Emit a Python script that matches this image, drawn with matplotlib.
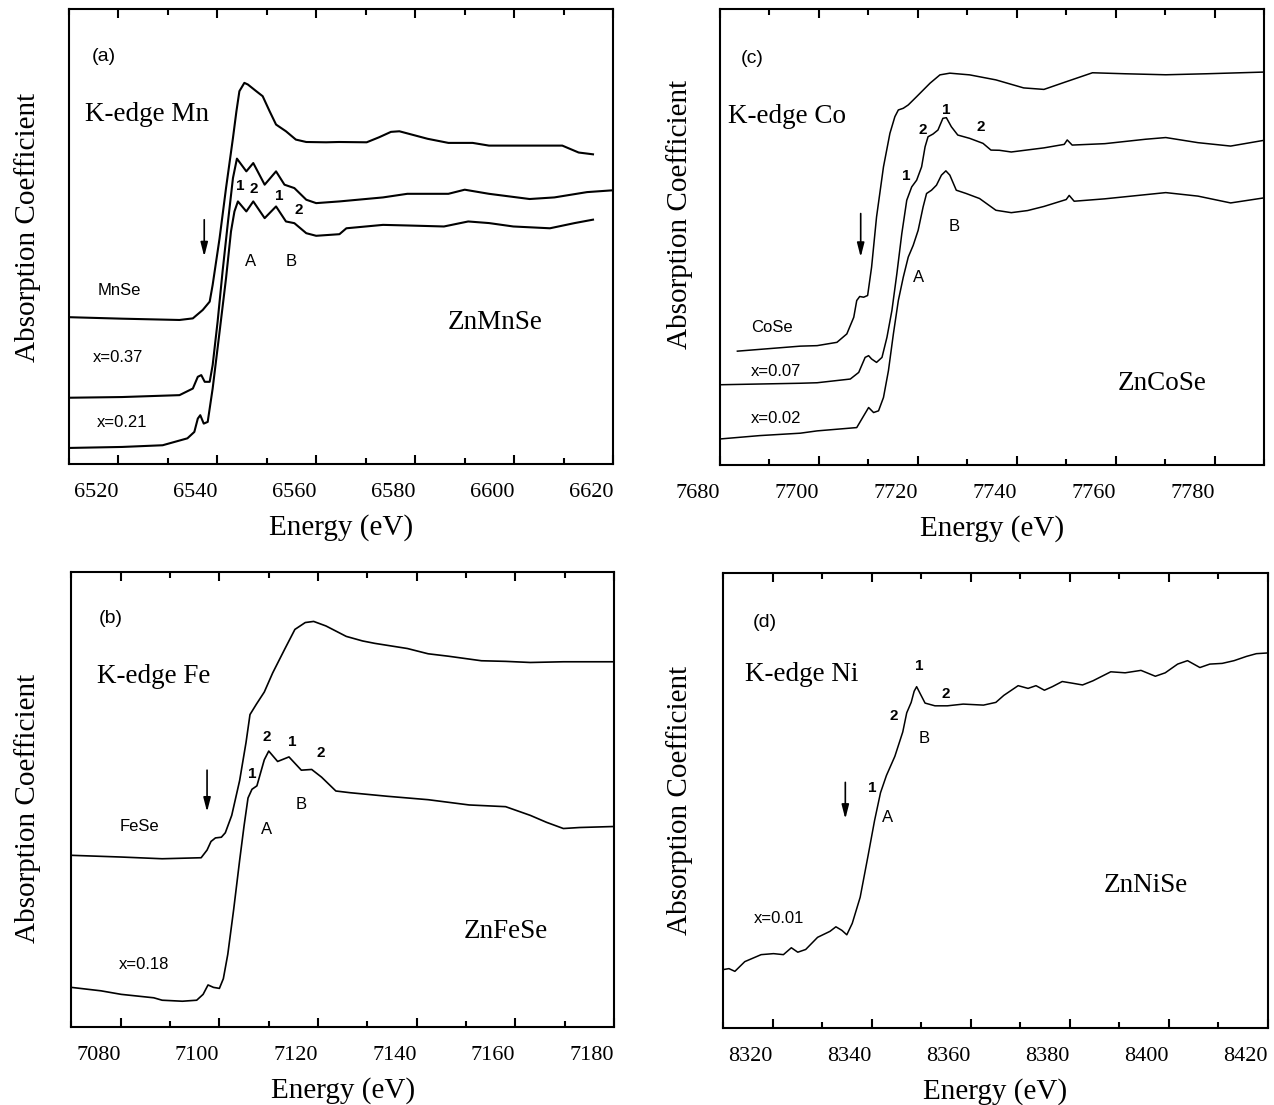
import matplotlib
matplotlib.use('Agg')
import matplotlib.pyplot as plt

# XANES K-edge spectra of Zn(1-x)TM(x)Se
# energies in eV, absorption in arbitrary units (curves are offset vertically)

# (a) Mn K-edge
mn_mnse_e = [6510, 6520.8, 6532.4, 6535.1, 6537.1, 6538.5, 6539.1, 6540.5, 6541.8, 6543.2,
             6543.9, 6544.5, 6545.5, 6546.2, 6547.9, 6549.2, 6550.6, 6551.9, 6553.9, 6555.9,
             6558.0, 6562.0, 6564.6, 6570.2, 6572.7, 6575.1, 6576.8, 6582.5, 6586.7, 6591.6,
             6594.9, 6601.5, 6609.7, 6613.0, 6615.9]
mn_mnse_mu = [146.5, 145.0, 143.7, 145.3, 153.7, 162.0, 178.7, 225.3, 275.3, 325.3,
              352.0, 372.0, 380.3, 378.7, 372.0, 367.0, 352.0, 338.7, 332.0, 323.7,
              321.3, 321.0, 321.3, 321.0, 326.0, 331.4, 332.0, 324.5, 320.4, 320.4,
              317.7, 317.7, 317.7, 310.8, 309.0]
mn_x37_e = [6510, 6520.8, 6532.4, 6535.1, 6536.1, 6536.8, 6537.5, 6538.5, 6539.1, 6540.1,
            6541.1, 6542.2, 6543.2, 6544.0, 6545.9, 6547.3, 6549.6, 6551.9, 6553.6, 6555.6,
            6558.0, 6560.0, 6564.7, 6573.5, 6578.4, 6586.7, 6590.0, 6594.9, 6603.1, 6608.1,
            6614.7, 6619.6]
mn_x37_mu = [66.1, 66.8, 68.7, 75.3, 87.0, 88.7, 82.0, 82.0, 98.7, 142.0,
             192.0, 242.0, 285.3, 304.7, 292.0, 300.3, 278.7, 292.0, 278.7, 275.3,
             263.7, 260.3, 262.0, 266.0, 269.6, 269.6, 273.7, 269.6, 264.4, 266.0,
             271.3, 273.0]
mn_x21_e = [6510, 6520.8, 6529.0, 6534.0, 6535.4, 6536.1, 6536.6, 6537.3, 6538.1, 6539.1,
            6540.5, 6541.8, 6542.8, 6543.5, 6544.2, 6545.9, 6547.3, 6549.6, 6551.9, 6553.9,
            6555.6, 6558.0, 6560.0, 6564.7, 6566.1, 6573.5, 6578.4, 6585.8, 6590.7, 6594.9,
            6599.8, 6607.2, 6612.2, 6615.9]
mn_x21_mu = [16.0, 17.0, 18.7, 25.6, 32.0, 45.3, 48.7, 40.3, 42.0, 75.3,
             132.0, 185.3, 232.0, 252.0, 262.0, 252.0, 262.0, 245.3, 257.0, 242.0,
             240.3, 230.3, 227.7, 229.3, 235.2, 238.6, 238.0, 237.0, 242.0, 240.4,
             237.0, 235.2, 240.4, 243.8]

# (b) Fe K-edge
fe_fese_e = [7070, 7080.1, 7088.4, 7096.3, 7097.5, 7098.3, 7099.2, 7100.4, 7101.2, 7102.5,
             7104.1, 7105.4, 7106.2, 7107.5, 7109.1, 7110.8, 7113.3, 7115.3, 7117.4, 7119.1,
             7121.6, 7125.7, 7129.0, 7131.5, 7138.1, 7142.3, 7146.4, 7153.1, 7158.0, 7163.0,
             7169.7, 7180.0]
fe_fese_mu = [170.1, 168.4, 166.7, 167.7, 175.3, 183.8, 187.3, 188.0, 192.4, 209.6,
              244.0, 281.8, 309.3, 319.6, 331.6, 350.5, 374.6, 393.5, 400.3, 401.4,
              396.9, 386.6, 382.1, 379.7, 374.6, 369.4, 367.0, 362.5, 361.9, 360.8,
              361.5, 361.5]
fe_x18_e = [7070, 7076.0, 7080.1, 7086.7, 7088.4, 7092.5, 7095.4, 7096.7, 7097.7, 7098.8,
            7100.0, 7100.8, 7101.7, 7102.9, 7104.1, 7105.0, 7105.8, 7106.6, 7107.6, 7108.3,
            7109.1, 7110.0, 7111.8, 7114.1, 7116.6, 7118.7, 7120.7, 7123.6, 7126.5, 7134.0,
            7142.3, 7150.6, 7158.0, 7163.0, 7166.3, 7169.7, 7173.0, 7180.0]
fe_x18_mu = [39.5, 36.1, 32.6, 29.2, 26.8, 25.8, 26.8, 32.6, 41.9, 39.5,
             38.5, 48.1, 72.2, 116.8, 165.0, 199.3, 226.8, 235.4, 238.8, 250.9,
             264.6, 273.2, 262.9, 267.4, 254.3, 255.0, 247.4, 233.7, 232.0, 228.5,
             225.1, 219.9, 218.2, 209.6, 202.7, 196.6, 197.6, 198.6]

# (c) Co K-edge
co_cose_e = [7683.6, 7696.3, 7699.7, 7703.7, 7705.7, 7707.1, 7707.7, 7708.3, 7709.1, 7709.9,
             7710.7, 7711.7, 7713.1, 7714.4, 7715.4, 7716.1, 7717.1, 7718.1, 7719.8, 7722.5,
             7724.5, 7726.5, 7730.5, 7735.8, 7741.4, 7745.5, 7749.6, 7755.3, 7761.9, 7770.1,
             7778.3, 7790.0]
co_cose_mu = [113.5, 118.5, 119.0, 122.3, 130.7, 147.3, 164.0, 168.0, 167.3, 169.0,
              197.3, 247.3, 297.3, 330.7, 347.3, 354.0, 355.7, 359.0, 367.3, 380.7,
              389.0, 390.7, 389.0, 384.0, 376.0, 374.5, 381.5, 391.1, 390.1, 389.1,
              390.1, 391.8]
co_x07_e = [7680, 7696.3, 7699.7, 7706.4, 7708.1, 7709.4, 7710.1, 7710.7, 7711.7, 7712.8,
            7713.8, 7714.8, 7715.8, 7716.8, 7717.8, 7718.8, 7719.8, 7720.8, 7721.5, 7722.1,
            7723.1, 7724.1, 7725.1, 7725.8, 7726.8, 7728.1, 7730.5, 7733.2, 7734.8, 7736.5,
            7738.9, 7745.5, 7749.6, 7750.2, 7751.2, 7757.8, 7766.0, 7770.1, 7776.6, 7783.2,
            7790.0]
co_x07_mu = [80.0, 81.5, 82.0, 85.7, 92.3, 107.3, 109.0, 105.7, 102.3, 107.3,
             127.3, 154.0, 190.7, 230.7, 264.0, 277.3, 284.0, 297.3, 317.3, 327.3,
             330.0, 334.0, 345.7, 346.3, 337.3, 329.0, 325.7, 320.7, 314.0, 313.8,
             312.1, 316.2, 319.7, 324.1, 319.0, 320.4, 324.8, 326.5, 321.4, 318.0,
             323.8]
co_x02_e = [7680, 7688.1, 7696.3, 7699.7, 7707.7, 7709.1, 7710.1, 7711.1, 7712.1, 7713.1,
            7714.1, 7715.1, 7716.1, 7717.1, 7718.1, 7719.1, 7720.1, 7721.1, 7721.8, 7722.8,
            7723.8, 7724.8, 7725.7, 7726.5, 7727.8, 7729.8, 7732.5, 7735.8, 7738.9, 7742.2,
            7745.5, 7750.0, 7750.6, 7751.6, 7757.8, 7770.1, 7776.6, 7783.2, 7790.0]
co_x02_mu = [25.9, 29.3, 31.7, 34.0, 37.3, 49.0, 57.3, 52.3, 54.0, 67.3,
             94.0, 130.7, 164.0, 187.3, 207.3, 219.0, 234.0, 257.3, 270.7, 274.0,
             279.0, 289.0, 293.3, 289.0, 274.0, 270.7, 265.7, 254.0, 251.6, 253.7,
             257.8, 264.7, 268.8, 263.0, 265.4, 271.6, 268.1, 261.3, 266.4]

# (d) Ni K-edge
ni_x01_e = [8310, 8311.2, 8312.4, 8314.4, 8317.7, 8320.2, 8322.2, 8323.8, 8325.1, 8326.7,
            8329.1, 8331.6, 8332.8, 8334.0, 8335.0, 8336.1, 8337.7, 8339.3, 8340.6, 8341.8,
            8343.0, 8344.7, 8346.3, 8347.1, 8348.0, 8348.6, 8349.1, 8350.0, 8350.8, 8352.8,
            8355.3, 8358.5, 8362.6, 8365.1, 8366.7, 8369.6, 8371.6, 8373.2, 8374.9, 8376.5,
            8378.5, 8380.6, 8382.6, 8384.7, 8388.3, 8391.2, 8394.4, 8397.3, 8399.3, 8401.8,
            8403.8, 8406.3, 8408.3, 8410.8, 8413.2, 8415.7, 8417.7, 8420.0]
ni_x01_mu = [57.4, 58.4, 55.7, 65.3, 72.2, 73.2, 72.2, 79.0, 74.6, 77.3,
             89.3, 95.2, 99.7, 96.2, 91.8, 103.1, 128.9, 170.1, 204.5, 232.0,
             249.1, 268.0, 292.1, 311.0, 321.3, 332.3, 336.8, 328.2, 320.6, 317.9,
             317.9, 319.6, 318.6, 321.3, 328.2, 337.8, 335.1, 337.8, 333.3, 336.8,
             341.9, 340.2, 338.5, 342.6, 351.5, 350.5, 352.9, 347.1, 350.5, 359.1,
             362.5, 355.7, 359.1, 359.8, 362.5, 366.7, 369.4, 370.1]

SERIF = 'Liberation Serif'
SANS = 'Liberation Sans'

plt.rcParams['font.family'] = [SERIF, 'DejaVu Serif']
plt.rcParams['axes.linewidth'] = 1.5

fig = plt.figure(figsize=(12.74, 11.05), dpi=100)

ax_a = fig.add_axes([0.0538, 0.5801, 0.4276, 0.4122])
ax_c = fig.add_axes([0.5648, 0.5792, 0.4276, 0.4124])
ax_b = fig.add_axes([0.0560, 0.0703, 0.4261, 0.4118])
ax_d = fig.add_axes([0.5675, 0.0699, 0.4276, 0.4115])


def setup(ax, x0, x1, ytop, ylab_xy):
    ax.set_xlim(x0, x1)
    ax.set_ylim(0, ytop)
    minor = list(range(x0, x1 + 1, 10))
    major = [t for t in minor if t % 20 == 0]
    ax.set_xticks(minor, minor=True)
    # labels in the original sit just left of their tick marks
    ax.set_xticks(major, labels=[str(t) for t in major], ha='right',
                  fontsize=16, fontfamily=SERIF)
    ax.set_yticks([])
    ax.tick_params(axis='x', which='both', direction='in', top=True, bottom=True,
                   width=1.5, pad=13.5)
    ax.tick_params(axis='x', which='major', length=6.5)
    ax.tick_params(axis='x', which='minor', length=4)
    ax.set_xlabel('Energy (eV)', fontsize=21, fontfamily=SERIF)
    ax.xaxis.set_label_coords(0.5, -0.11)
    ax.set_ylabel('Absorption Coefficient', fontsize=21, fontfamily=SERIF)
    ax.yaxis.set_label_coords(*ylab_xy)


def tag(ax, x, y, s, size=12, bold=False):
    ax.text(x, y, s, fontsize=size, fontfamily=SANS, ha='center', va='center',
            fontweight='bold' if bold else 'normal')


def arrow(ax, x, ytop, ybot):
    ax.annotate('', xy=(x, ybot), xytext=(x, ytop),
                arrowprops=dict(arrowstyle='-|>,head_length=0.7,head_width=0.18',
                                color='k', lw=1.2, mutation_scale=12,
                                shrinkA=0, shrinkB=0))


# ---- (a) ZnMnSe ----
setup(ax_a, 6510, 6620, 454.5, (-0.051, 0.52))
ax_a.plot(mn_mnse_e, mn_mnse_mu, color='k', lw=1.5)
ax_a.plot(mn_x37_e, mn_x37_mu, color='k', lw=1.5)
ax_a.plot(mn_x21_e, mn_x21_mu, color='k', lw=1.5)
tag(ax_a, 6517.1, 407, '(a)', size=14)
ax_a.text(6513.4, 348.6, 'K-edge Mn', fontsize=19.5, fontfamily=SERIF, va='center')
ax_a.text(6596.1, 140.7, 'ZnMnSe', fontsize=19.5, fontfamily=SERIF, ha='center', va='center')
tag(ax_a, 6520.2, 173, 'MnSe')
tag(ax_a, 6520.0, 106.3, 'x=0.37')
tag(ax_a, 6520.8, 41, 'x=0.21')
arrow(ax_a, 6537.4, 243.7, 207)
tag(ax_a, 6544.7, 277, '1', size=11, bold=True)
tag(ax_a, 6547.3, 274.7, '2', size=11, bold=True)
tag(ax_a, 6552.6, 267, '1', size=11, bold=True)
tag(ax_a, 6556.5, 253.7, '2', size=11, bold=True)
tag(ax_a, 6546.7, 202, 'A')
tag(ax_a, 6554.9, 202, 'B')

# ---- (c) ZnCoSe ----
setup(ax_c, 7680, 7790, 454.4, (-0.049, 0.55))
ax_c.plot(co_cose_e, co_cose_mu, color='k', lw=1.1)
ax_c.plot(co_x07_e, co_x07_mu, color='k', lw=1.1)
ax_c.plot(co_x02_e, co_x02_mu, color='k', lw=1.1)
tag(ax_c, 7686.5, 405.6, '(c)', size=14)
ax_c.text(7681.7, 347.2, 'K-edge Co', fontsize=19.5, fontfamily=SERIF, va='center')
ax_c.text(7769.3, 80.8, 'ZnCoSe', fontsize=19.5, fontfamily=SERIF, ha='center', va='center')
tag(ax_c, 7690.6, 137, 'CoSe')
tag(ax_c, 7691.4, 92.9, 'x=0.07')
tag(ax_c, 7691.4, 46.5, 'x=0.02')
arrow(ax_c, 7708.5, 250.7, 207.3)
tag(ax_c, 7725.8, 354, '1', size=11, bold=True)
tag(ax_c, 7721.1, 334, '2', size=11, bold=True)
tag(ax_c, 7732.8, 336.7, '2', size=11, bold=True)
tag(ax_c, 7717.6, 288, '1', size=11, bold=True)
tag(ax_c, 7720.1, 187.3, 'A')
tag(ax_c, 7727.3, 238, 'B')

# ---- (b) ZnFeSe ----
setup(ax_b, 7070, 7180, 450, (-0.056, 0.48))
ax_b.plot(fe_fese_e, fe_fese_mu, color='k', lw=1.2)
ax_b.plot(fe_x18_e, fe_x18_mu, color='k', lw=1.2)
tag(ax_b, 7078, 403.8, '(b)', size=14)
ax_b.text(7075.1, 347, 'K-edge Fe', fontsize=19.5, fontfamily=SERIF, va='center')
ax_b.text(7158, 94.5, 'ZnFeSe', fontsize=19.5, fontfamily=SERIF, ha='center', va='center')
tag(ax_b, 7083.8, 198.6, 'FeSe')
tag(ax_b, 7084.8, 61.9, 'x=0.18')
arrow(ax_b, 7097.5, 254.3, 213.1)
tag(ax_b, 7106.6, 250.9, '1', size=11, bold=True)
tag(ax_b, 7109.5, 287, '2', size=11, bold=True)
tag(ax_b, 7114.8, 281.8, '1', size=11, bold=True)
tag(ax_b, 7120.6, 271.5, '2', size=11, bold=True)
tag(ax_b, 7109.5, 195.9, 'A')
tag(ax_b, 7116.6, 219.9, 'B')

# ---- (d) ZnNiSe ----
setup(ax_d, 8310, 8420, 449, (-0.055, 0.50))
ax_d.plot(ni_x01_e, ni_x01_mu, color='k', lw=1.1)
tag(ax_d, 8318.5, 400.3, '(d)', size=14)
ax_d.text(8314.4, 348.8, 'K-edge Ni', fontsize=19.5, fontfamily=SERIF, va='center')
ax_d.text(8395.3, 140.9, 'ZnNiSe', fontsize=19.5, fontfamily=SERIF, ha='center', va='center')
tag(ax_d, 8321.4, 108.2, 'x=0.01')
arrow(ax_d, 8334.7, 242.3, 206.2)
tag(ax_d, 8349.6, 357.4, '1', size=11, bold=True)
tag(ax_d, 8355.0, 329.9, '2', size=11, bold=True)
tag(ax_d, 8344.5, 307.6, '2', size=11, bold=True)
tag(ax_d, 8340.2, 237.1, '1', size=11, bold=True)
tag(ax_d, 8343.3, 207.9, 'A')
tag(ax_d, 8350.6, 285.2, 'B')

fig.savefig('out.png', dpi=100)
